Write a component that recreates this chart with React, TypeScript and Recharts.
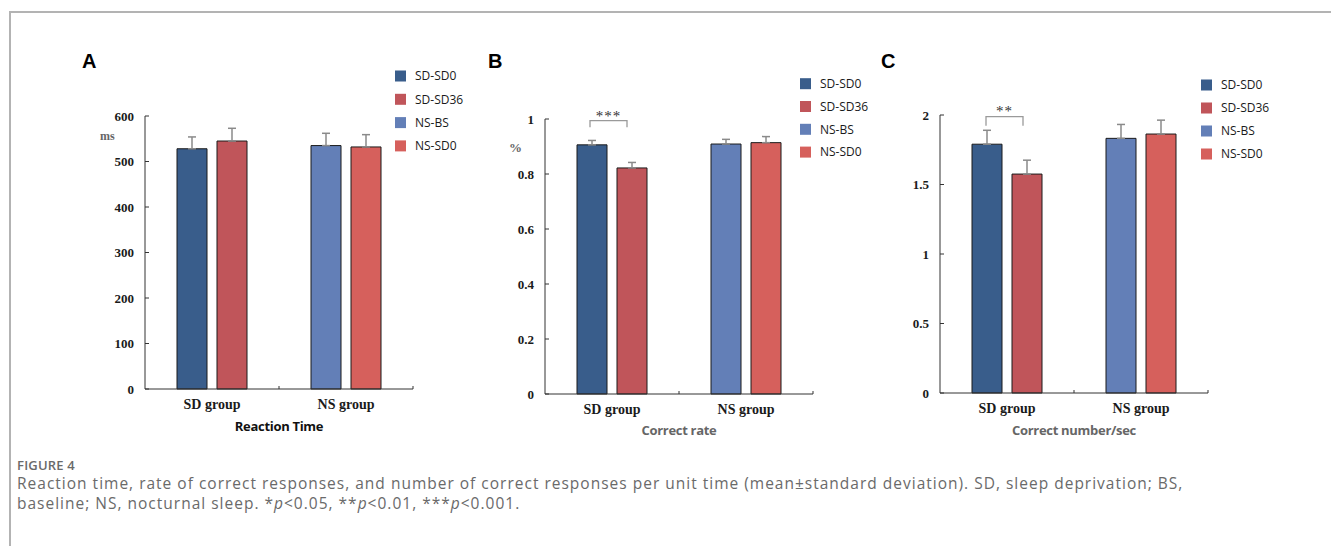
import React from 'react';
import { BarChart, Bar, XAxis, YAxis, Cell, ErrorBar } from 'recharts';

// groups on the x axis, and the four conditions (two per group)
const groups = ['SD group', 'NS group'];
const seriesNames = ['SD-SD0', 'SD-SD36', 'NS-BS', 'NS-SD0'];
const seriesColors = ['#395d8b', '#c0555a', '#637fb7', '#d6605c'];

// panel A: reaction time (ms)
const reactionMean = [528, 545, 535, 532];
const reactionSd = [26, 28, 27, 27];
const reactionTicks = [0, 100, 200, 300, 400, 500, 600];

// panel B: correct rate
const rateMean = [0.906, 0.822, 0.909, 0.914];
const rateSd = [0.016, 0.02, 0.017, 0.022];
const rateTicks = [0, 0.2, 0.4, 0.6, 0.8, 1];

// panel C: correct number per second
const speedMean = [1.79, 1.575, 1.832, 1.863];
const speedSd = [0.1, 0.1, 0.1, 0.1];
const speedTicks = [0, 0.5, 1, 1.5, 2];

const SERIF = '"Liberation Serif", "Times New Roman", serif';
const SANS = '"Open Sans", sans-serif';
const TICK_SIZE = 4;
const TICK_MARGIN = 7;

const buildRows = (mean: number[], sd: number[]) =>
  groups.map((g, i) => ({
    group: g,
    first: mean[i * 2],
    firstErr: [0, sd[i * 2]],
    second: mean[i * 2 + 1],
    secondErr: [0, sd[i * 2 + 1]],
  }));

interface PanelProps {
  axisX: number;
  top: number;
  bottom: number;
  right: number;
  mean: number[];
  sd: number[];
  ticks: number[];
}

const Panel = ({ axisX, top, bottom, right, mean, sd, ticks }: PanelProps) => {
  const left = axisX - 60;
  const chartTop = top - 10;
  const width = right - left + 10;
  const height = bottom - chartTop + 30;
  const halfBand = (right - axisX) / groups.length / 2;
  const rows = buildRows(mean, sd);

  const YTick = (props: any) => {
    const { x, y, payload } = props;
    return (
      <g>
        <text x={x} y={y} dy="0.355em" textAnchor="end" fontFamily={SERIF} fontWeight="bold" fontSize={13} fill="#1a1a1a">
          {payload.value}
        </text>
        <line x1={x + TICK_SIZE + TICK_MARGIN} x2={x + TICK_SIZE * 2 + TICK_MARGIN} y1={y} y2={y} stroke="#333" />
      </g>
    );
  };

  const XTick = (props: any) => {
    const { x, y, payload } = props;
    return (
      <g>
        <text x={x} y={y} dy="0.71em" textAnchor="middle" fontFamily={SERIF} fontWeight="bold" fontSize={14} fill="#1a1a1a">
          {payload.value}
        </text>
        <line x1={x + halfBand} x2={x + halfBand} y1={y - 10} y2={y - 13} stroke="#333" />
      </g>
    );
  };

  return (
    <div style={{ position: 'absolute', left, top: chartTop }}>
      <BarChart
        width={width}
        height={height}
        data={rows}
        margin={{ top: 10, right: 10, left: 0, bottom: 0 }}
        barSize={30}
        barGap={10}
      >
        <XAxis
          dataKey="group"
          height={30}
          interval={0}
          tickLine={false}
          tickSize={6}
          tickMargin={4}
          axisLine={{ stroke: '#333' }}
          tick={<XTick />}
        />
        <YAxis
          width={60}
          domain={[ticks[0], ticks[ticks.length - 1]]}
          ticks={ticks}
          interval={0}
          tickLine={false}
          tickSize={TICK_SIZE}
          tickMargin={TICK_MARGIN}
          axisLine={{ stroke: '#333' }}
          tick={<YTick />}
        />
        <Bar dataKey="first" isAnimationActive={false} stroke="#1b1b1b" strokeWidth={1}>
          {rows.map((_, i) => (
            <Cell key={`f-${i}`} fill={seriesColors[i * 2]} />
          ))}
          <ErrorBar dataKey="firstErr" width={4} stroke="#8a8a8a" strokeWidth={1.5} isAnimationActive={false} />
        </Bar>
        <Bar dataKey="second" isAnimationActive={false} stroke="#1b1b1b" strokeWidth={1}>
          {rows.map((_, i) => (
            <Cell key={`s-${i}`} fill={seriesColors[i * 2 + 1]} />
          ))}
          <ErrorBar dataKey="secondErr" width={4} stroke="#8a8a8a" strokeWidth={1.5} isAnimationActive={false} />
        </Bar>
      </BarChart>
    </div>
  );
};

const Legend = ({ x, y0, step }: { x: number; y0: number; step: number }) => (
  <g>
    {seriesNames.map((name, i) => (
      <g key={name}>
        <rect x={x} y={y0 + i * step - 5.5} width={11} height={11} fill={seriesColors[i]} />
        <text x={x + 20} y={y0 + i * step + 4.3} fontFamily={SANS} fontSize={12} fill="#1a1a1a">
          {name}
        </text>
      </g>
    ))}
  </g>
);

const Bracket = ({ x1, x2, y, foot, label, labelY }: any) => (
  <g>
    <path d={`M${x1},${foot} V${y} H${x2} V${foot}`} fill="none" stroke="#9a9a9a" strokeWidth={1.3} />
    <text x={(x1 + x2) / 2} y={labelY} textAnchor="middle" fontFamily={SERIF} fontSize={15} letterSpacing={1} fill="#333">
      {label}
    </text>
  </g>
);

export default function App() {
  return (
    <div style={{ position: 'absolute', left: 0, top: 0, width: 1331, height: 546, overflow: 'hidden', background: '#fff' }}>
      <div
        style={{
          position: 'absolute',
          left: 9,
          top: 11,
          width: 1400,
          height: 600,
          borderLeft: '2px solid #b3b3b3',
          borderTop: '2px solid #b3b3b3',
        }}
      />
      <Panel axisX={145} top={116} bottom={389} right={413} mean={reactionMean} sd={reactionSd} ticks={reactionTicks} />
      <Panel axisX={545} top={119} bottom={394} right={813} mean={rateMean} sd={rateSd} ticks={rateTicks} />
      <Panel axisX={940} top={115.3} bottom={393.3} right={1208} mean={speedMean} sd={speedSd} ticks={speedTicks} />

      <svg width={1331} height={546} style={{ position: 'absolute', left: 0, top: 0, pointerEvents: 'none' }}>
        <text x={82} y={68} fontFamily='"Liberation Sans", Arial, sans-serif' fontWeight="bold" fontSize={20} fill="#000">A</text>
        <text x={488} y={68} fontFamily='"Liberation Sans", Arial, sans-serif' fontWeight="bold" fontSize={20} fill="#000">B</text>
        <text x={881} y={68} fontFamily='"Liberation Sans", Arial, sans-serif' fontWeight="bold" fontSize={20} fill="#000">C</text>

        <text x={100} y={140} fontFamily={SERIF} fontWeight="bold" fontSize={12} fill="#666">ms</text>
        <text x={509} y={152} fontFamily={SERIF} fontWeight="bold" fontSize={13} fill="#666">%</text>

        <Legend x={395} y0={76} step={23.3} />
        <Legend x={800} y0={83.7} step={22.8} />
        <Legend x={1201} y0={85} step={23} />

        <Bracket x1={590} x2={627} y={120.7} foot={127.3} label="***" labelY={120.5} />
        <Bracket x1={986} x2={1023} y={116.7} foot={125.7} label="**" labelY={116} />

        <text x={279} y={431} textAnchor="middle" fontFamily={SANS} fontWeight="bold" fontSize={13} letterSpacing={-0.3} fill="#111">
          Reaction Time
        </text>
        <text x={679} y={435} textAnchor="middle" fontFamily={SANS} fontWeight="bold" fontSize={13} letterSpacing={-0.3} fill="#666">
          Correct rate
        </text>
        <text x={1074} y={435} textAnchor="middle" fontFamily={SANS} fontWeight="bold" fontSize={13} letterSpacing={-0.3} fill="#666">
          Correct number/sec
        </text>

        <text x={17} y={469.5} fontFamily={SANS} fontWeight={600} fontSize={13} letterSpacing={0.2} fill="#6a6a6a">FIGURE 4</text>
        <text x={17} y={489} fontFamily={SANS} fontSize={15.5} letterSpacing={1} fill="#6a6a6a">
          Reaction time, rate of correct responses, and number of correct responses per unit time (mean±standard deviation). SD, sleep deprivation; BS,
        </text>
        <text x={17} y={508.5} fontFamily={SANS} fontSize={15.5} letterSpacing={1} fill="#6a6a6a">
          baseline; NS, nocturnal sleep. *<tspan fontStyle="italic">p</tspan>&lt;0.05, **<tspan fontStyle="italic">p</tspan>&lt;0.01, ***<tspan fontStyle="italic">p</tspan>&lt;0.001.
        </text>
      </svg>
    </div>
  );
}
